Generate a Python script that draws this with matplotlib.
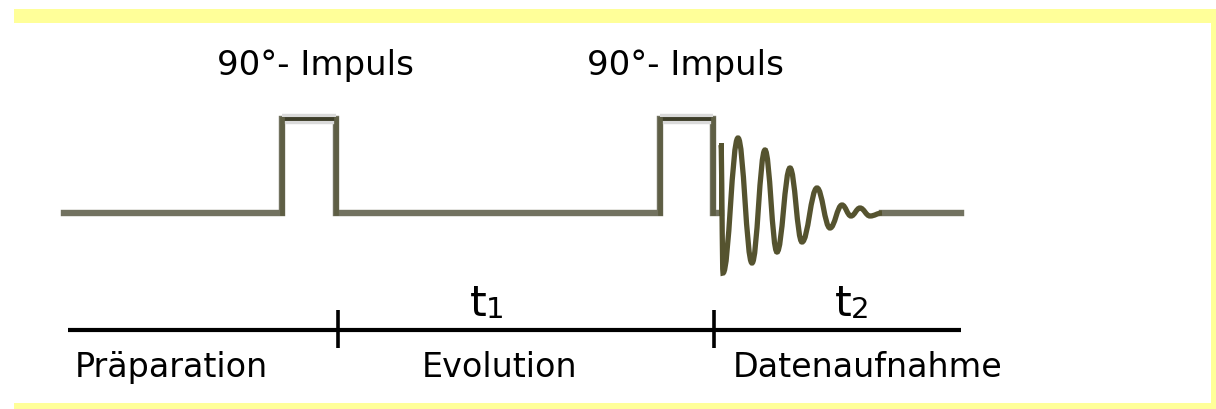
import matplotlib
matplotlib.use("Agg")
import matplotlib.pyplot as plt
from matplotlib.path import Path
from matplotlib.patches import PathPatch, Rectangle

# sequence timing (x in image units, amplitude up from baseline)
seq_start = 64
seq_end = 961
pulse_on = [282, 660]
pulse_off = [336, 713]
pulse_amp = 94
fid_begin = 721
# FID extrema
fid_x = [721, 723, 738, 752, 765, 777, 790, 802, 817, 830, 842, 851, 860, 870, 882]
fid_y = [68, -60, 75, -50, 63, -39, 45, -29, 25, -15, 8, -3, 5, -3, 0]

# time axis
axis_start = 68
axis_marks = [338, 714]
pulse_labels = ["90°- Impuls", "90°- Impuls"]
period_labels = ["Präparation", "Evolution", "Datenaufnahme"]
period_x = [75, 422, 733]
time_labels = [("t", "1", 470), ("t", "2", 835)]

W, H = 1216, 409
base_px = 213  # baseline row in image

fig = plt.figure(figsize=(W / 100, H / 100), dpi=100)
ax = fig.add_axes([0, 0, 1, 1])
ax.set_xlim(0, W)
ax.set_ylim(base_px - H, base_px)
ax.axis("off")

def py(row):
    return base_px - row

# yellow frame
yellow = "#ffff99"
ax.add_patch(Rectangle((14, py(23)), W - 14, 14, facecolor=yellow, lw=0))
ax.add_patch(Rectangle((1211, py(409)), 5, 386, facecolor=yellow, lw=0))
ax.add_patch(Rectangle((14, py(409)), W - 14, 6, facecolor=yellow, lw=0))

# baseline with the two pulses
xs = [seq_start]
ys = [0]
for on, off in zip(pulse_on, pulse_off):
    xs += [on, on, off, off]
    ys += [0, pulse_amp, pulse_amp, 0]
xs.append(fid_begin)
ys.append(0)
ax.plot(xs, ys, color="#727260", lw=4.6, solid_joinstyle="miter", zorder=2)
for on, off in zip(pulse_on, pulse_off):
    ax.plot([on, off], [pulse_amp, pulse_amp], color="#dadada", lw=7.5, zorder=3,
            solid_capstyle="butt")
    ax.plot([on, off], [pulse_amp, pulse_amp], color="#3e3e2a", lw=2.8, zorder=4,
            solid_capstyle="butt")
    ax.plot([on, on], [0, pulse_amp], color="#5e5e44", lw=3.4, zorder=4)
    ax.plot([off, off], [0, pulse_amp], color="#5e5e44", lw=3.4, zorder=4)

# FID as smooth curve through extrema
verts = [(fid_x[0], fid_y[0])]
codes = [Path.MOVETO]
for i in range(1, len(fid_x)):
    x0, y0, x1, y1 = fid_x[i - 1], fid_y[i - 1], fid_x[i], fid_y[i]
    d = 0.4 * (x1 - x0)
    verts += [(x0 + d, y0), (x1 - d, y1), (x1, y1)]
    codes += [Path.CURVE4] * 3
ax.plot([fid_begin, fid_begin], [0, fid_y[0]], color="#55532f", lw=3.6, zorder=3)
ax.add_patch(PathPatch(Path(verts, codes), fill=False, edgecolor="#55532f",
                       lw=3.8, zorder=3))
ax.plot([fid_x[-1], seq_end], [0, 0], color="#727260", lw=4.6, zorder=2)

# time axis
axis_y = py(330)
ax.plot([axis_start, seq_end], [axis_y, axis_y], color="black", lw=3, zorder=2,
        solid_capstyle="butt")
for m in axis_marks:
    ax.plot([m, m], [py(310), py(348)], color="black", lw=2.6, zorder=2,
            solid_capstyle="butt")

# text
for lab, x in zip(pulse_labels, [217, 587]):
    ax.text(x, py(75), lab, fontsize=24.5, ha="left", va="baseline")
for lab, x in zip(period_labels, period_x):
    ax.text(x, py(377), lab, fontsize=24, ha="left", va="baseline")
for t, sub, x in time_labels:
    ax.text(x, py(316), t, fontsize=31, ha="left", va="baseline")
    ax.text(x + 16, py(318), sub, fontsize=21, ha="left", va="baseline")

fig.savefig("out.png", dpi=100)
